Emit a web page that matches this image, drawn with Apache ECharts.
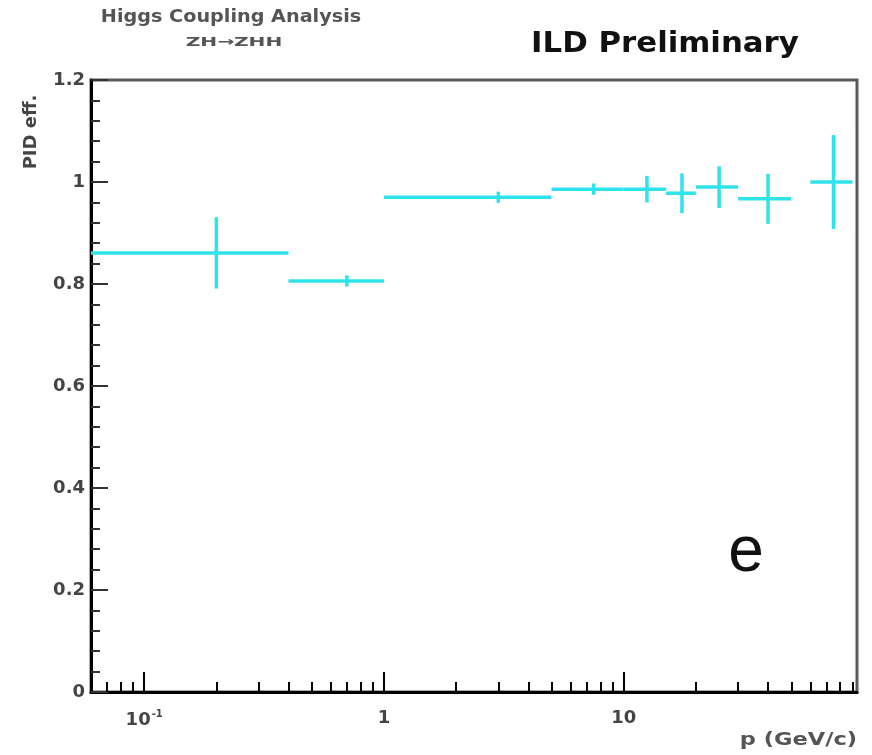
<!DOCTYPE html>
<html><head><meta charset="utf-8">
<script src="https://cdn.jsdelivr.net/npm/echarts@6/dist/echarts.min.js"></script>
<style>html,body{margin:0;padding:0;background:#fff}#c{width:872px;height:755px}</style>
</head><body><div id="c"></div>
<script>
// ---- data ----
var pCenter = [0.2, 0.7, 3, 7.5, 12.5, 17.5, 25, 40, 75];
var pLow    = [0.04, 0.4, 1, 5, 10, 15, 20, 30, 60];
var pHigh   = [0.4, 1, 5, 10, 15, 20, 30, 50, 90];
var eff     = [0.861, 0.806, 0.970, 0.986, 0.986, 0.978, 0.990, 0.967, 1.000];
var effErr  = [0.070, 0.011, 0.011, 0.011, 0.026, 0.039, 0.041, 0.049, 0.092];
var xMajorTicks = [0.1, 1, 10];
var xMinorTicks = [0.07, 0.08, 0.09, 0.2, 0.3, 0.4, 0.5, 0.6, 0.7, 0.8, 0.9,
                   2, 3, 4, 5, 6, 7, 8, 9, 20, 30, 40, 50, 60, 70, 80, 90];
var yTicks = [0, 0.2, 0.4, 0.6, 0.8, 1, 1.2];

var xMin = 0.06, xMax = 94;
var cyan = '#2fe3ea';
var font = '"DejaVu Sans", Verdana, sans-serif';
var fontH = '"Liberation Sans", Arial, sans-serif';

var data = pCenter.map(function (p, i) {
  return [p, eff[i], pLow[i], pHigh[i], effErr[i]];
});

var chart = echarts.init(document.getElementById('c'));
chart.setOption({
  animation: false,
  backgroundColor: '#fff',
  grid: {left: 91, right: 15, top: 80, bottom: 63, show: true,
         borderColor: '#5a5a5a', borderWidth: 3, backgroundColor: 'transparent'},
  xAxis: [{
    type: 'log', min: xMin, max: xMax, logBase: 10,
    axisLine: {show: true, onZero: false, lineStyle: {color: '#000', width: 3}},
    axisTick: {show: true, inside: true, length: 20, customValues: xMajorTicks,
               lineStyle: {color: '#000', width: 2}},
    axisLabel: {
      customValues: xMajorTicks, margin: 17,
      formatter: function (v) {
        var l = Math.round(Math.log10(v));
        if (l === -1) return '{b|10}{s|-1}';
        if (l === 0) return '{b|1}';
        return '{b|10}';
      },
      rich: {
        b: {fontFamily: font, fontWeight: 'bold', fontSize: 18, color: '#444'},
        s: {fontFamily: font, fontWeight: 'bold', fontSize: 10, color: '#444', verticalAlign: 'top', padding: [0, 0, 12, 1]}
      }
    },
    splitLine: {show: false}, minorTick: {show: false}
  }, {
    type: 'log', min: xMin, max: xMax, logBase: 10, position: 'bottom',
    axisLine: {show: false},
    axisTick: {show: true, inside: true, length: 10, customValues: xMinorTicks,
               lineStyle: {color: '#000', width: 2}},
    axisLabel: {show: false},
    splitLine: {show: false}
  }],
  yAxis: {
    type: 'value', min: 0, max: 1.2, interval: 0.2,
    axisLine: {show: true, lineStyle: {color: '#000', width: 3}},
    axisTick: {show: true, inside: true, length: 17, lineStyle: {color: '#333', width: 2}},
    minorTick: {show: true, splitNumber: 5, length: 9, lineStyle: {color: '#333', width: 2}},
    axisLabel: {
      customValues: yTicks, margin: 6,
      fontFamily: font, fontWeight: 'bold', fontSize: 18, color: '#444',
      formatter: function (v) {
        if (Math.abs(v - 1) < 1e-6) return '1';
        if (Math.abs(v) < 1e-6) return '0';
        return v.toFixed(1);
      }
    },
    splitLine: {show: false}
  },
  series: [{
    type: 'custom',
    xAxisIndex: 0,
    clip: true,
    data: data,
    renderItem: function (params, api) {
      var y = api.value(1), err = api.value(4);
      var pc = api.coord([api.value(0), y]);
      var pl = api.coord([Math.max(api.value(2), xMin), y]);
      var ph = api.coord([api.value(3), y]);
      var yt = api.coord([api.value(0), y + err]);
      var yb = api.coord([api.value(0), y - err]);
      var st = {stroke: cyan, lineWidth: 3.5};
      return {type: 'group', children: [
        {type: 'line', shape: {x1: pl[0], y1: pc[1], x2: ph[0], y2: pc[1]}, style: st},
        {type: 'line', shape: {x1: pc[0], y1: yt[1], x2: pc[0], y2: yb[1]}, style: st}
      ]};
    }
  }],
  graphic: [
    {type: 'text', x: 231, y: 18, scaleX: 1.13, style: {text: 'Higgs Coupling Analysis', x: 0, y: 0, align: 'center', verticalAlign: 'middle',
      font: 'bold 17px ' + font, fill: '#555'}},
    {type: 'text', x: 234, y: 43, scaleX: 1.55, style: {text: 'ZH\u2192ZHH', x: 0, y: 0, align: 'center', verticalAlign: 'middle',
      font: 'bold 13px ' + font, fill: '#555'}},
    {type: 'text', x: 665, y: 45, scaleX: 1.1, style: {text: 'ILD Preliminary', x: 0, y: 0, align: 'center', verticalAlign: 'middle',
      font: 'bold 28px ' + font, fill: '#111'}},
    {type: 'text', x: 746, y: 553, style: {text: 'e', x: 0, y: 0, align: 'center', verticalAlign: 'middle',
      font: '64px ' + fontH, fill: '#111'}},
    {type: 'text', x: 31, y: 132, rotation: Math.PI / 2, style: {text: 'PID eff.', x: 0, y: 0, align: 'center', verticalAlign: 'middle',
      font: 'bold 18px ' + font, fill: '#444'}},
    {type: 'text', x: 857, y: 740, scaleX: 1.25, style: {text: 'p (GeV/c)', x: 0, y: 0, align: 'right', verticalAlign: 'middle',
      font: 'bold 18px ' + font, fill: '#555'}}
  ]
});
</script></body></html>
